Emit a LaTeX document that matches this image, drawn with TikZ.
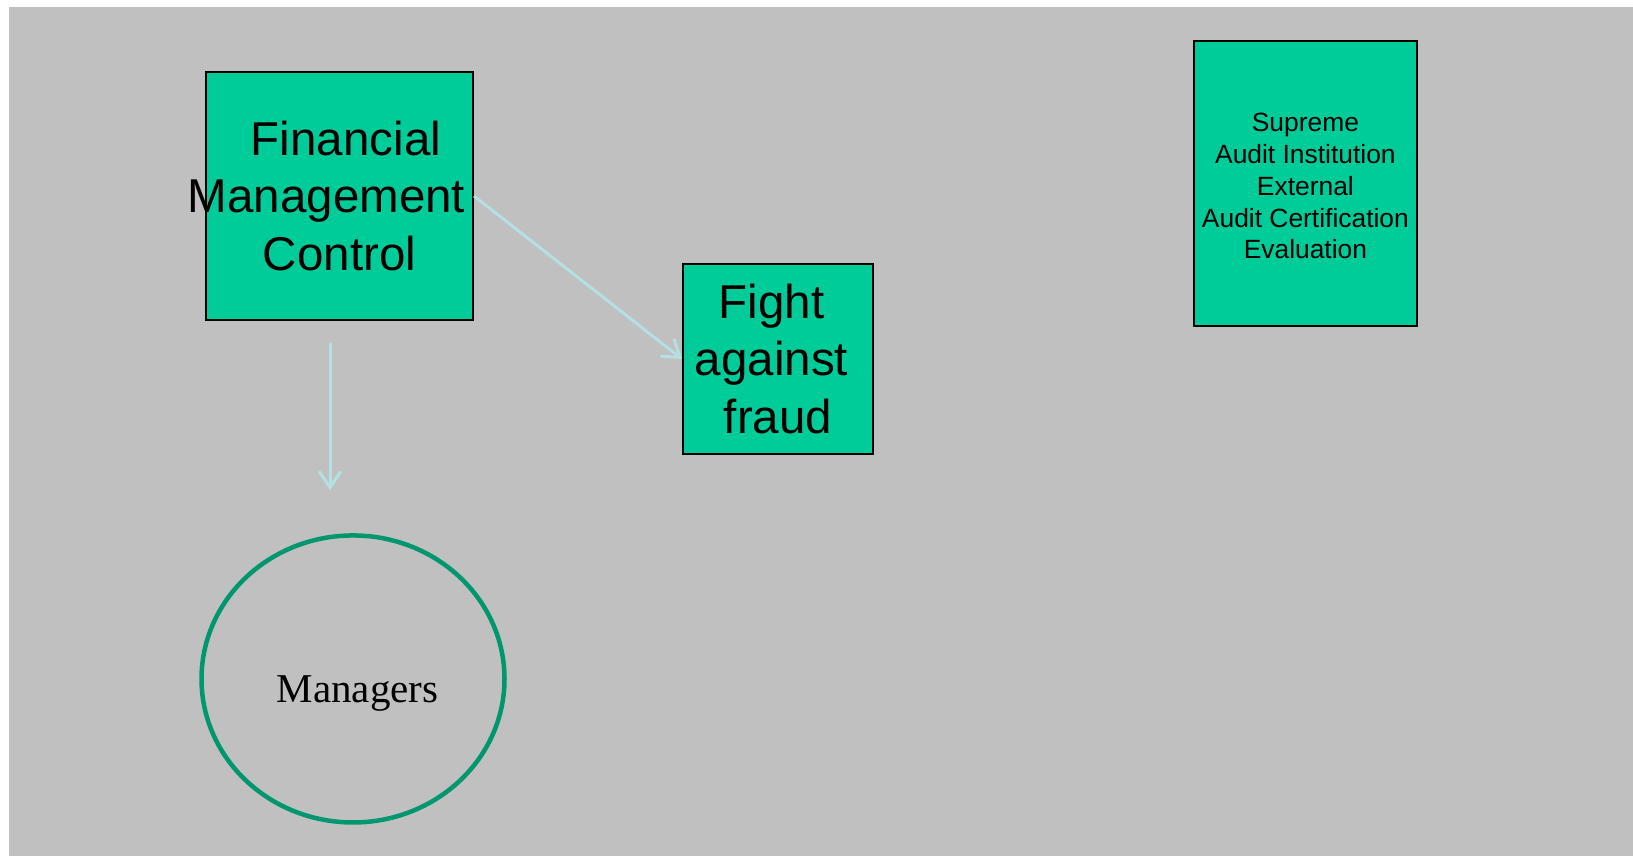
\documentclass[tikz,border=0pt]{standalone}
\usepackage{fontspec}
\setmainfont{Liberation Sans}
\newfontfamily\seriffont{Liberation Serif}
\usetikzlibrary{arrows.meta,shapes.geometric}
\definecolor{slidegrey}{RGB}{192,192,192}
\definecolor{boxgreen}{RGB}{0,204,153}
\definecolor{ringgreen}{RGB}{0,150,110}
\definecolor{arrowblue}{RGB}{180,224,228}

\begin{document}
\begin{tikzpicture}[x=1pt, y=-1pt,
		box/.style={
			draw,
			line width=2pt,
			fill=boxgreen,
			inner sep=2pt,
			align=center},
		big/.style={
			font=\fontsize{47.5}{57.5}\selectfont},
		small/.style={
			font=\fontsize{26.4}{31.8}\selectfont},
		ring/.style={
			draw=ringgreen,
			ellipse,
			line width=4.5pt,
			minimum width=303pt,
			minimum height=287pt},
		flow/.style={
			draw=arrowblue,
			line width=3pt,
			-{Straight Barb[length=16pt,width=22pt]}}]

		\useasboundingbox (0,0) rectangle (1633,856);
		\fill [slidegrey] (9,7) rectangle (1633,856);

		\node (fmc) [box, big, minimum width=267pt, minimum height=248pt, inner xsep=-20pt] at (339.5,196) {\hspace*{13pt}Financial\\Management\rule{26pt}{0pt}\\Control};
		\node (fight) [box, big, minimum width=190pt, minimum height=190pt, right of = fmc, xshift=410pt, yshift=-163pt] {Fight\rule{13pt}{0pt}\\against\rule{13pt}{0pt}\\fraud};
		\node (sai) [box, small, minimum width=223pt, minimum height=285pt, right of = fight, xshift=499pt, yshift=175.5pt] {\rule{0pt}{24pt}Supreme\\Audit Institution\\External\\Audit Certification\\Evaluation};

		\node (mgr) [ring, below of = fmc, xshift=13.5pt, yshift=-454.5pt] {};
		\node (mgrtext) [font=\seriffont\fontsize{41}{48}\selectfont] at ([xshift=4.5pt, yshift=-15pt]mgr.center) {Managers};

		\coordinate (down1) at ([xshift=-9.5pt, yshift=-22pt]fmc.south);
		\coordinate (down2) at ([yshift=-147pt]down1);

		\draw [flow] (fmc.east) -- (fight.west);
		\draw [flow] (down1) -- (down2);
	\end{tikzpicture}
\end{document}
